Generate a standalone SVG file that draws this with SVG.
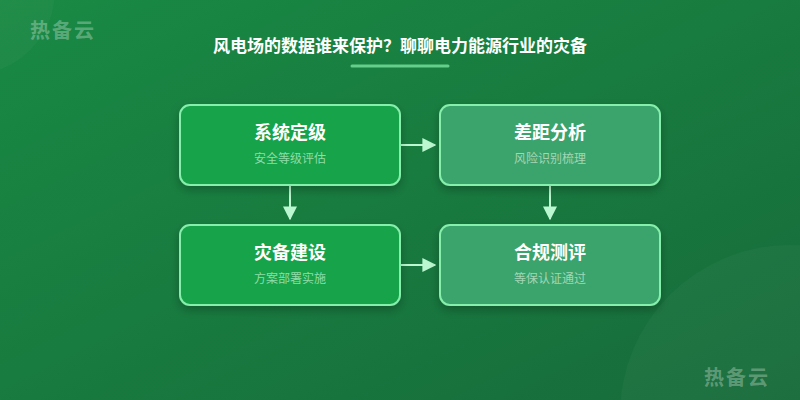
<svg xmlns="http://www.w3.org/2000/svg" width="800" height="400" viewBox="0 0 800 400">
<defs>
<linearGradient id="bg" x1="0" y1="0" x2="1" y2="1">
<stop offset="0" stop-color="#198a44"/>
<stop offset="1" stop-color="#176b3a"/>
</linearGradient>
<filter id="sh" x="-20%" y="-20%" width="140%" height="150%">
<feDropShadow dx="0" dy="4" stdDeviation="5" flood-color="#000" flood-opacity="0.25"/>
</filter>
<marker id="ah" viewBox="0 0 10 10" refX="9" refY="5" markerWidth="14" markerHeight="14" markerUnits="userSpaceOnUse" orient="auto">
<path d="M0,0 L10,5 L0,10 Z" fill="#bbf7d0"/>
</marker>
<style>
.wm{font-family:"Noto Sans CJK SC","Noto Sans",sans-serif;font-size:20px;font-weight:700;fill:#ffffff;fill-opacity:0.3;letter-spacing:2px}
.ttl{font-family:"Noto Sans CJK SC","Noto Sans",sans-serif;font-size:17px;font-weight:700;fill:#ffffff;text-anchor:middle}
.bx{stroke:#86efac;stroke-width:2;filter:url(#sh)}
.b1{fill:#18a34a}
.b2{fill:#3ba36c}
.h{font-family:"Noto Sans CJK SC","Noto Sans",sans-serif;font-size:18px;font-weight:700;fill:#ffffff;text-anchor:middle}
.s{font-family:"Noto Sans CJK SC","Noto Sans",sans-serif;font-size:12px;text-anchor:middle}
.s1{fill:#8fdcaa}
.s2{fill:#a3d6b5}
.cn{stroke:#bbf7d0;stroke-width:2;fill:none;marker-end:url(#ah)}
</style>
</defs>
<rect width="800" height="400" fill="url(#bg)"/>
<circle cx="-30" cy="-10" r="85" fill="#ffffff" fill-opacity="0.03"/>
<circle cx="790" cy="415" r="170" fill="#ffffff" fill-opacity="0.03"/>
<text class="wm" x="30" y="38">热备云</text>
<text class="wm" x="704" y="385">热备云</text>
<text class="ttl" x="400" y="52">风电场的数据谁来保护？聊聊电力能源行业的灾备</text>
<line x1="352" y1="66" x2="448" y2="66" stroke="#86efac" stroke-opacity="0.7" stroke-width="3" stroke-linecap="round"/>
<g id="connectors">
<line class="cn" x1="401" y1="145" x2="435" y2="145"/>
<line class="cn" x1="290" y1="186" x2="290" y2="219"/>
<line class="cn" x1="550" y1="186" x2="550" y2="219"/>
<line class="cn" x1="401" y1="265" x2="435" y2="265"/>
</g>
<g id="node1">
<rect class="bx b1" x="180" y="105" width="220" height="80" rx="10"/>
<text class="h" x="290" y="139">系统定级</text>
<text class="s s1" x="290" y="163">安全等级评估</text>
</g>
<g id="node2">
<rect class="bx b2" x="440" y="105" width="220" height="80" rx="10"/>
<text class="h" x="550" y="139">差距分析</text>
<text class="s s2" x="550" y="163">风险识别梳理</text>
</g>
<g id="node3">
<rect class="bx b1" x="180" y="225" width="220" height="80" rx="10"/>
<text class="h" x="290" y="259">灾备建设</text>
<text class="s s1" x="290" y="283">方案部署实施</text>
</g>
<g id="node4">
<rect class="bx b2" x="440" y="225" width="220" height="80" rx="10"/>
<text class="h" x="550" y="259">合规测评</text>
<text class="s s2" x="550" y="283">等保认证通过</text>
</g>
</svg>
